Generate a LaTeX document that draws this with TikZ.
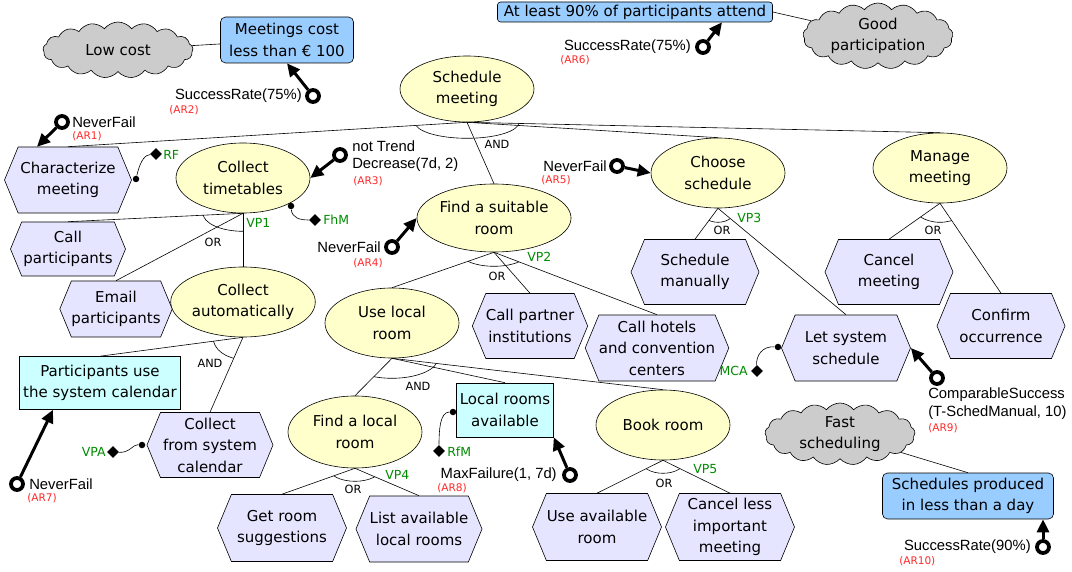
\documentclass[tikz,border=0pt]{standalone}
\usepackage{fontspec}
\setmainfont{DejaVu Sans}
\newfontfamily\metricfam{Liberation Sans}
\usepackage{tikz}
\usetikzlibrary{calc,shapes.geometric,shapes.symbols,arrows.meta}

\definecolor{goalyellow}{RGB}{255,255,204}
\definecolor{tasklav}{RGB}{229,229,255}
\definecolor{qcblue}{RGB}{153,204,255}
\definecolor{dacyan}{RGB}{204,255,255}
\definecolor{softgray}{RGB}{204,204,204}
\definecolor{vpgreen}{RGB}{0,140,0}
\definecolor{arred}{RGB}{255,40,40}

\newcommand{\lblfont}{\fontsize{15}{21.5}\selectfont}
\newcommand{\metricfont}{\metricfam\fontsize{14.8}{17.5}\selectfont}
\newcommand{\arfont}{\fontsize{10.5}{12}\selectfont}
\newcommand{\opfont}{\fontsize{11.3}{13}\selectfont}
\newcommand{\vpfont}{\fontsize{12.5}{14}\selectfont}

% decomposition arc: parent, leftmost child, rightmost child, x radius, y radius
\newcommand{\tikzDecArc}[5]{
  \begin{scope}
    \clip (#1.south) -- ($(#1.south)!4!(#2.north)$) -- ($(#1.south)!4!(#3.north)$) -- cycle;
    \draw (#1.south) ellipse [x radius=#4pt, y radius=#5pt];
  \end{scope}
}

\tikzset{
  goal/.style={draw,ellipse,fill=goalyellow,minimum width=134pt,minimum height=68pt,inner sep=0pt,align=center,font=\lblfont},
  task/.style={draw,signal,signal to=east and west,signal pointer angle=135,fill=tasklav,minimum width=128pt,minimum height=66pt,inner sep=0pt,align=center,font=\lblfont},
  softgoal/.style={draw,cloud,cloud puffs=17,cloud puff arc=105,cloud ignores aspect,fill=softgray,minimum width=150pt,minimum height=56pt,inner sep=0pt,align=center,font=\lblfont},
  qcbox/.style={draw,rectangle,rounded corners=5pt,fill=qcblue,inner sep=0pt,align=center,font=\lblfont},
  dabox/.style={draw,rectangle,fill=dacyan,inner sep=0pt,align=center,font=\lblfont},
  ring/.style={draw,circle,line width=3.8pt,minimum size=12pt,inner sep=0pt,fill=white},
  arlink/.style={line width=3pt,-{Triangle[length=13pt,width=12pt]}},
  metric/.style={font=\metricfont,inner sep=0pt,align=left},
  artag/.style={font=\arfont,text=arred,inner sep=0pt},
  optag/.style={font=\opfont,inner sep=0pt},
  vptag/.style={font=\vpfont,text=vpgreen,inner sep=0pt},
  vpdot/.style={circle,fill=black,minimum size=6.5pt,inner sep=0pt},
  vpdiam/.style={diamond,fill=black,minimum size=12pt,inner sep=0pt}
}

\begin{document}
\begin{tikzpicture}[x=1pt,y=-1pt,semithick]
  \useasboundingbox (0,0) rectangle (1072,572);

  %soft goals and quality constraints
  \node[softgoal] (lowcost) at (118,50) {Low cost};
  \node[qcbox,minimum width=133pt,minimum height=46pt] (costqc) at (287,40) {Meetings cost\\less than € 100};
  \node[qcbox,rounded corners=3pt,minimum width=275pt,minimum height=20pt] (attendqc) at (635,12) {At least 90\% of participants attend};
  \node[softgoal,minimum height=66pt] (goodpart) at (878,36) {Good\\participation};
  \node[softgoal,minimum height=62pt] (fastsched) at (840,434) {Fast\\scheduling};
  \node[qcbox,minimum width=171pt,minimum height=46pt] (fastqc) at (968,496) {Schedules produced\\in less than a day};
  \path (lowcost) edge (costqc);
  \path (attendqc.east) edge (goodpart);
  \path (fastsched) edge (fastqc.north);

  %goals
  \node[goal,minimum height=66pt] (schedmeet) at (467,89) {Schedule\\meeting};
  \node[goal,minimum height=70pt] (colltime) at (243,178) {Collect\\timetables};
  \node[goal] (findroom) at (494,218) {Find a suitable\\room};
  \node[goal,minimum height=70pt] (choosesch) at (718,173) {Choose\\schedule};
  \node[goal,minimum height=70pt] (managemeet) at (940,168) {Manage\\meeting};
  \node[goal,minimum height=70pt] (collauto) at (243,302) {Collect\\automatically};
  \node[goal,minimum height=70pt] (uselocal) at (392,323) {Use local\\room};
  \node[goal,minimum height=72pt] (findlocal) at (355,432) {Find a local\\room};
  \node[goal,minimum height=70pt] (bookroom) at (663,425) {Book room};

  %tasks
  \node[task,minimum width=127pt] (charmeet) at (68,180) {Characterize\\meeting};
  \node[task,minimum width=115pt,minimum height=54pt] (callpart) at (68,249) {Call\\participants};
  \node[task,minimum width=112pt,minimum height=56pt] (emailpart) at (116,309) {Email\\participants};
  \node[task,minimum width=126pt,minimum height=65pt] (collsys) at (210,445) {Collect\\from system\\calendar};
  \node[task,minimum width=129pt,minimum height=67pt] (getsugg) at (282,528) {Get room\\suggestions};
  \node[task,minimum width=124pt] (listlocal) at (419,529) {List available\\local rooms};
  \node[task,minimum width=115pt,minimum height=65pt] (callpartner) at (530,326) {Call partner\\institutions};
  \node[task] (callhotels) at (657,348) {Call hotels\\and convention\\centers};
  \node[task,minimum height=65pt] (schedman) at (695,272) {Schedule\\manually};
  \node[task,minimum width=129pt] (letsys) at (846,348) {Let system\\schedule};
  \node[task,minimum height=65pt] (cancelmeet) at (889,272) {Cancel\\meeting};
  \node[task,minimum height=65pt] (confirmocc) at (1001,326) {Confirm\\occurrence};
  \node[task,minimum width=129pt,minimum height=67pt] (useavail) at (597,527) {Use available\\room};
  \node[task,minimum width=129pt,minimum height=67pt] (cancelless) at (730,527) {Cancel less\\important\\meeting};

  %domain assumptions
  \node[dabox,minimum width=161pt,minimum height=53pt] (partcal) at (100,383) {Participants use\\the system calendar};
  \node[dabox,minimum width=97pt,minimum height=54pt] (localavail) at (505,410) {Local rooms\\available};

  %decompositions
  \path (schedmeet.south) edge (charmeet.north) (schedmeet.south) edge (findroom.north)
        (schedmeet.south) edge (choosesch.north) (schedmeet.south) edge (managemeet.north);
  \tikzDecArc{schedmeet}{charmeet}{managemeet}{52}{16}
  \node[optag] (andsm) at (497,144) {AND};

  \path (colltime.south) edge (callpart.north) (colltime.south) edge (emailpart.north)
        (colltime.south) edge (collauto.north);
  \tikzDecArc{colltime}{callpart}{collauto}{40}{18}
  \node[optag] (orct) at (213,242) {OR};
  \node[vptag,anchor=west] (vp1) at (246,223) {VP1};

  \path (collauto.south) edge (partcal.north) (collauto.south) edge (collsys.north);
  \tikzDecArc{collauto}{partcal}{collsys}{30}{22}
  \node[optag] (andca) at (210,363) {AND};

  \path (findroom.south) edge (uselocal.north) (findroom.south) edge (callpartner.north)
        (findroom.south) edge (callhotels.north);
  \tikzDecArc{findroom}{uselocal}{callhotels}{34}{14}
  \node[optag] (orfr) at (497,276) {OR};
  \node[vptag,anchor=west] (vp2) at (527,257) {VP2};

  \path (choosesch.south) edge (schedman.north) (choosesch.south) edge (letsys.north);
  \tikzDecArc{choosesch}{schedman}{letsys}{18}{14}
  \node[optag] (orcs) at (722,230) {OR};
  \node[vptag,anchor=west] (vp3) at (737,218) {VP3};

  \path (managemeet.south) edge (cancelmeet.north) (managemeet.south) edge (confirmocc.north);
  \tikzDecArc{managemeet}{cancelmeet}{confirmocc}{28}{19}
  \node[optag] (ormm) at (933,230) {OR};

  \path (uselocal.south) edge (findlocal.north) (uselocal.south) edge (localavail.north)
        (uselocal.south) edge (bookroom.north);
  \tikzDecArc{uselocal}{findlocal}{bookroom}{46}{20}
  \node[optag] (andul) at (418,386) {AND};

  \path (findlocal.south) edge (getsugg.north) (findlocal.south) edge (listlocal.north);
  \tikzDecArc{findlocal}{getsugg}{listlocal}{26}{13}
  \node[optag] (orfl) at (353,489) {OR};
  \node[vptag,anchor=west] (vp4) at (385,475) {VP4};

  \path (bookroom.south) edge (useavail.north) (bookroom.south) edge (cancelless.north);
  \tikzDecArc{bookroom}{useavail}{cancelless}{22}{13}
  \node[optag] (orbr) at (664,483) {OR};
  \node[vptag,anchor=west] (vp5) at (693,469) {VP5};

  %variation point annotations
  \node[vpdot] (rfdot) at (136,179) {};
  \node[vpdiam] (rfdiam) at (156,154) {};
  \draw (rfdot) .. controls (141,158) and (146,155) .. (rfdiam);
  \node[vptag,anchor=west] (rf) at (163,155) {RF};

  \node[vpdot] (fhmdot) at (291,206) {};
  \node[vpdiam] (fhmdiam) at (315,220) {};
  \draw (fhmdot) .. controls (292,218) and (300,220) .. (fhmdiam);
  \node[vptag,anchor=west] (fhm) at (323,220) {FhM};

  \node[vpdot] (mcadot) at (778,347) {};
  \node[vpdiam] (mcadiam) at (757,371) {};
  \draw (mcadot) .. controls (762,346) and (756,356) .. (mcadiam);
  \node[vptag,anchor=east] (mca) at (748,371) {MCA};

  \node[vpdot] (vpadot) at (142,445) {};
  \node[vpdiam] (vpadiam) at (113,452) {};
  \draw (vpadot) .. controls (133,444) and (130,453) .. (vpadiam);
  \node[vptag,anchor=east] (vpa) at (106,452) {VPA};

  \node[vpdot] (rfmdot) at (453,412) {};
  \node[vpdiam] (rfmdiam) at (439,451) {};
  \draw (rfmdot) .. controls (440,412) and (439,430) .. (rfmdiam);
  \node[vptag,anchor=west] (rfm) at (447,452) {RfM};

  %awareness requirements
  \node[ring] (ar1) at (62,122) {};
  \node[metric,anchor=west] (ar1txt) at (72,122) {NeverFail};
  \node[artag,anchor=west] (ar1tag) at (72,136) {(AR1)};
  \draw[arlink] (ar1) -- (charmeet.133);

  \node[ring] (ar2) at (313,96) {};
  \node[metric,anchor=east] (ar2txt) at (302,96) {SuccessRate(75\%)};
  \node[artag,anchor=west] (ar2tag) at (169,110) {(AR2)};
  \draw[arlink] (ar2) -- (costqc.south);

  \node[ring] (ar3) at (340,155) {};
  \node[metric,anchor=west] (ar3txt) at (352,156) {not Trend\\Decrease(7d, 2)};
  \node[artag,anchor=west] (ar3tag) at (353,181) {(AR3)};
  \draw[arlink] (ar3) -- (colltime.east);

  \node[ring] (ar4) at (392,247) {};
  \node[metric,anchor=east] (ar4txt) at (381,247) {NeverFail};
  \node[artag,anchor=west] (ar4tag) at (353,263) {(AR4)};
  \draw[arlink] (ar4) -- (findroom.west);

  \node[ring] (ar5) at (617,166) {};
  \node[metric,anchor=east] (ar5txt) at (607,166) {NeverFail};
  \node[artag,anchor=west] (ar5tag) at (541,180) {(AR5)};
  \draw[arlink] (ar5) -- (choosesch.west);

  \node[ring] (ar6) at (703,47) {};
  \node[metric,anchor=east] (ar6txt) at (691,47) {SuccessRate(75\%)};
  \node[artag,anchor=west] (ar6tag) at (560,60) {(AR6)};
  \draw[arlink] (ar6) -- ([xshift=87pt]attendqc.south);

  \node[ring] (ar7) at (17,484) {};
  \node[metric,anchor=west] (ar7txt) at (29,484) {NeverFail};
  \node[artag,anchor=west] (ar7tag) at (27,498) {(AR7)};
  \draw[arlink] (ar7) -- ([xshift=-47pt]partcal.south);

  \node[ring] (ar8) at (570,475) {};
  \node[metric,anchor=east] (ar8txt) at (557,475) {MaxFailure(1, 7d)};
  \node[artag,anchor=west] (ar8tag) at (437,488) {(AR8)};
  \draw[arlink] (ar8) -- (localavail.south east);

  \node[ring] (ar9) at (937,378) {};
  \node[metric,anchor=west] (ar9txt) at (928,403.5) {ComparableSuccess\\(T-SchedManual, 10)};
  \node[artag,anchor=west] (ar9tag) at (928,428) {(AR9)};
  \draw[arlink] (ar9) -- (letsys.east);

  \node[ring] (ar10) at (1043,547) {};
  \node[metric,anchor=east] (ar10txt) at (1031,547) {SuccessRate(90\%)};
  \node[artag,anchor=west] (ar10tag) at (899,561) {(AR10)};
  \draw[arlink] (ar10) -- ([xshift=75pt]fastqc.south);

\end{tikzpicture}
\end{document}
